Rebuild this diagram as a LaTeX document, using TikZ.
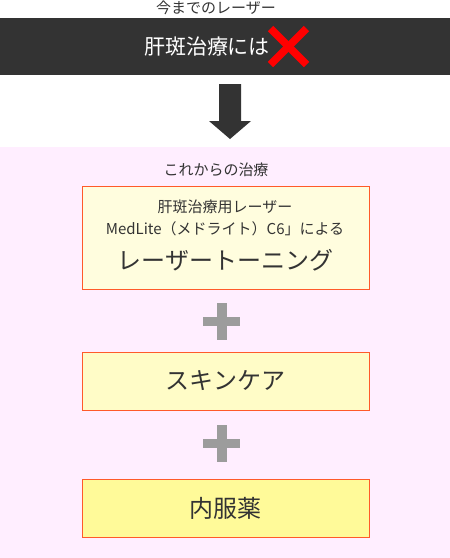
\documentclass[tikz,border=0pt]{standalone}
\usepackage{fontspec}
\setmainfont{Noto Sans CJK JP}
\usetikzlibrary{calc, positioning}
\definecolor{barcol}{HTML}{333333}
\definecolor{pinkbg}{HTML}{FFEEFF}
\definecolor{boxline}{HTML}{FF5A2A}
\definecolor{plusgray}{HTML}{9C9C9C}
\definecolor{txt}{HTML}{333333}
\newcommand{\fsz}[1]{\fontsize{#1}{#1}\selectfont}
\tikzset{
  lbl/.style={text=txt, inner sep=0pt},
  stagebox/.style={draw=boxline, line width=1pt, minimum width=287pt, inner sep=0pt},
  plusmark/.pic={
    \fill[plusgray] (-18.5,-4.5) rectangle (18.5,4.5);
    \fill[plusgray] (-5,-18.5) rectangle (5,18.5);
  }
}

\begin{document}
\begin{tikzpicture}[x=1pt, y=-1pt]
                \useasboundingbox (0,0) rectangle (450,558);
                % old laser
                \node[lbl, font=\fsz{15}] (old) at (216,8) {今までのレーザー};
                \fill[barcol] (0,18) rectangle (450,75);
                \node[inner sep=0pt, text=white, font=\fsz{21}] (ng) at (207,47) {肝斑治療には};
                \coordinate (x) at (288.5,46.5);
                \draw[red, line width=7.5pt] ($(x)+(-18,-18)$) -- ($(x)+(18,18)$);
                \draw[red, line width=7.5pt] ($(x)+(18,-18)$) -- ($(x)+(-18,18)$);
                % arrow
                \coordinate (arr) at (230,84);
                \fill[barcol] (arr) ++(-11,0) -- ++(22,0) -- ++(0,37) -- ++(10,0)
                    -- (230,139) -- (209,121) -- (219,121) -- cycle;
                % new treatment
                \fill[pinkbg] (0,147) rectangle (450,558);
                \node[lbl, font=\fsz{15}] (new) at (216,170) {これからの治療};
                \node[stagebox, fill=yellow!13, minimum height=103pt] (toning) at (225.5,237.5) {};
                \node[lbl, font=\fsz{15}] (t1) at (225,207) {肝斑治療用レーザー};
                \node[lbl, font=\fsz{15}] (t2) at (225,229) {MedLite（メドライト）C6」による};
                \node[lbl, font=\fsz{24}] (t3) at (225.5,260) {レーザートーニング};
                \pic at (221.5,321.5) {plusmark};
                \node[stagebox, fill=yellow!22, minimum height=58pt, font=\fsz{24}, text=txt] (skin) at (225.5,381) {スキンケア};
                \pic at (221.5,443.5) {plusmark};
                \node[stagebox, fill=yellow!40, minimum height=58pt, font=\fsz{24}, text=txt] (med) at (225.5,508) {内服薬};
            \end{tikzpicture}
\end{document}
